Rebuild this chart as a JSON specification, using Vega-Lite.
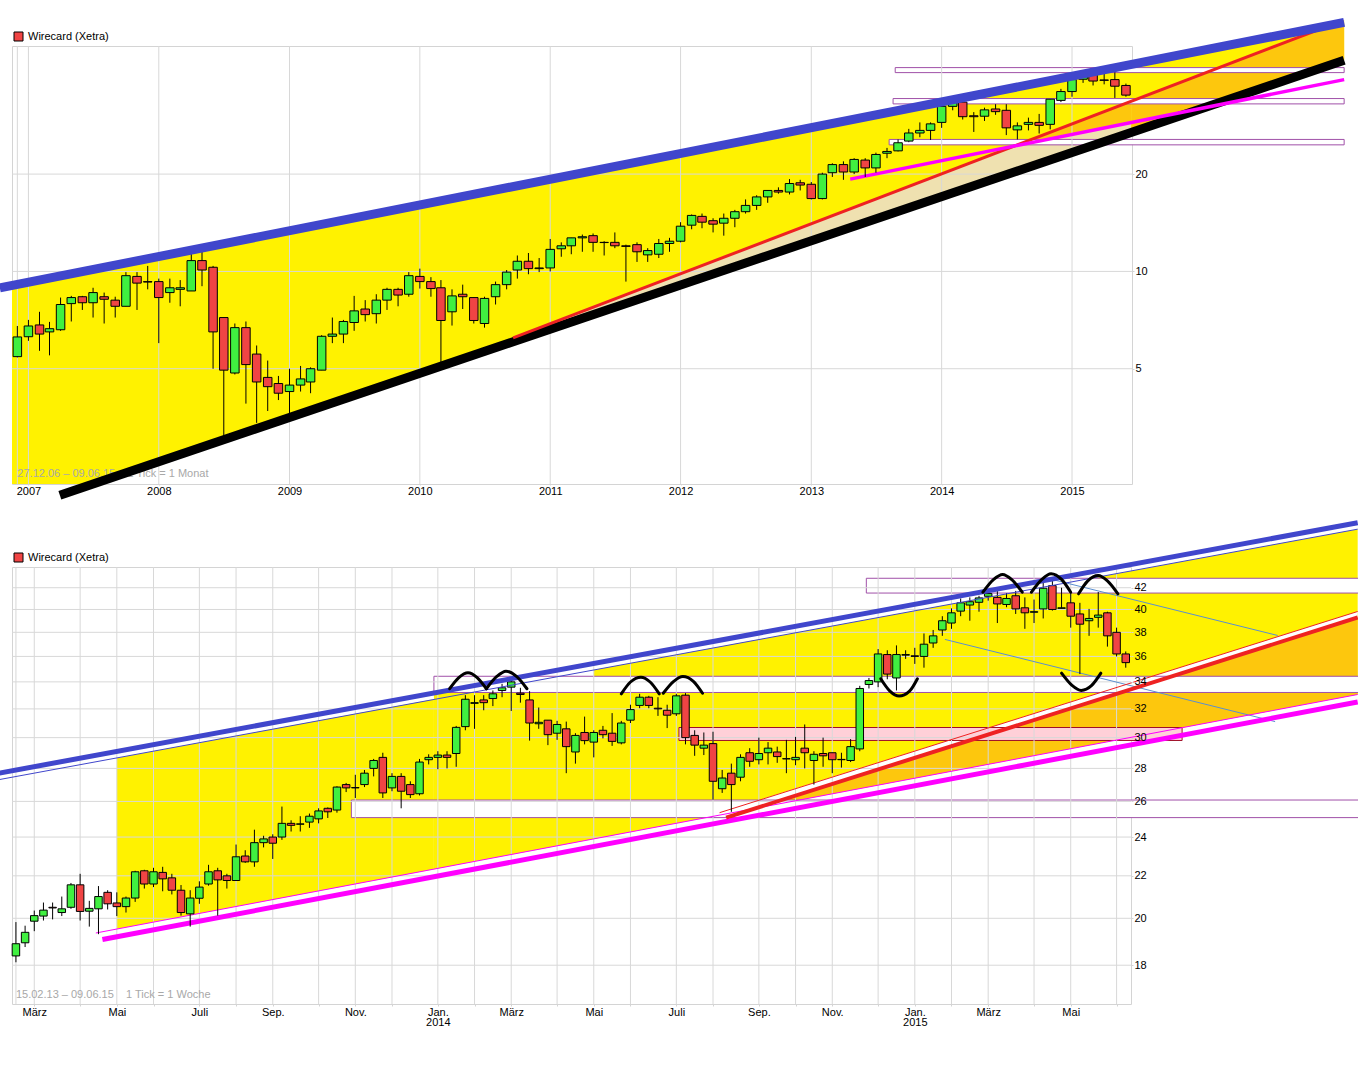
{
"$schema":"https://vega.github.io/schema/vega-lite/v6.json",
"autosize":{"type":"none"},
"padding":{"left":12,"top":46,"right":1346,"bottom":1026},
"background":"white",
"config":{
 "view":{"stroke":"#d4d4d4","strokeWidth":1},
 "axis":{"grid":false,"domain":false,"labelFont":"Liberation Sans","labelFontSize":11,"labelColor":"#000000","tickColor":"#d4d4d4","tickSize":2,"labelPadding":1,"labelOverlap":false,"labelFlush":false},
 "legend":{"orient":"none","legendX":1,"legendY":-15,"symbolType":"square","symbolSize":81,"symbolStrokeColor":"#000000","symbolStrokeWidth":1,"symbolOpacity":1,"labelFont":"Liberation Sans","labelFontSize":11,"labelColor":"#000000","padding":0,"labelOffset":4},
 "text":{"font":"Liberation Sans"}
},
"spacing":83,
"bounds":"flush",
"resolve":{"scale":{"color":"independent"},"legend":{"color":"independent"}},
"datasets":{
"m":[
{"d":"2006-12-01","o":5.45,"h":6.78,"l":5.42,"c":6.27},
{"d":"2007-01-01","o":6.28,"h":7.08,"l":6.1,"c":6.78},
{"d":"2007-02-01","o":6.83,"h":7.5,"l":5.68,"c":6.4},
{"d":"2007-03-01","o":6.5,"h":6.98,"l":5.5,"c":6.65},
{"d":"2007-04-01","o":6.6,"h":8.3,"l":6.55,"c":7.9},
{"d":"2007-05-01","o":7.95,"h":8.4,"l":7.0,"c":8.3},
{"d":"2007-06-01","o":8.35,"h":8.4,"l":7.6,"c":8.0},
{"d":"2007-07-01","o":8.0,"h":8.9,"l":7.2,"c":8.6},
{"d":"2007-08-01","o":8.35,"h":8.6,"l":6.9,"c":8.2},
{"d":"2007-09-01","o":8.15,"h":8.35,"l":7.2,"c":7.8},
{"d":"2007-10-01","o":7.8,"h":9.95,"l":7.8,"c":9.7},
{"d":"2007-11-01","o":9.65,"h":9.95,"l":7.6,"c":9.2},
{"d":"2007-12-01","o":9.3,"h":10.4,"l":8.8,"c":9.27},
{"d":"2008-01-01","o":9.3,"h":9.5,"l":6.0,"c":8.3},
{"d":"2008-02-01","o":8.6,"h":9.5,"l":8.0,"c":8.9},
{"d":"2008-03-01","o":8.8,"h":9.4,"l":7.8,"c":8.9},
{"d":"2008-04-01","o":8.7,"h":11.4,"l":8.7,"c":10.8},
{"d":"2008-05-01","o":10.8,"h":11.7,"l":9.0,"c":10.1},
{"d":"2008-06-01","o":10.3,"h":10.4,"l":5.0,"c":6.5},
{"d":"2008-07-01","o":7.2,"h":7.2,"l":3.05,"c":4.95},
{"d":"2008-08-01","o":4.85,"h":6.9,"l":4.8,"c":6.7},
{"d":"2008-09-01","o":6.7,"h":7.0,"l":3.9,"c":5.15},
{"d":"2008-10-01","o":5.55,"h":5.9,"l":3.4,"c":4.55},
{"d":"2008-11-01","o":4.7,"h":5.3,"l":3.7,"c":4.4},
{"d":"2008-12-01","o":4.5,"h":4.75,"l":4.0,"c":4.2},
{"d":"2009-01-01","o":4.25,"h":5.0,"l":3.6,"c":4.45},
{"d":"2009-02-01","o":4.45,"h":5.1,"l":4.25,"c":4.65},
{"d":"2009-03-01","o":4.55,"h":5.05,"l":4.2,"c":5.0},
{"d":"2009-04-01","o":4.95,"h":6.35,"l":4.95,"c":6.3},
{"d":"2009-05-01","o":6.3,"h":7.2,"l":6.0,"c":6.4},
{"d":"2009-06-01","o":6.4,"h":7.08,"l":6.0,"c":7.0},
{"d":"2009-07-01","o":6.95,"h":8.4,"l":6.55,"c":7.55},
{"d":"2009-08-01","o":7.65,"h":8.15,"l":7.0,"c":7.35},
{"d":"2009-09-01","o":7.4,"h":8.5,"l":6.9,"c":8.15},
{"d":"2009-10-01","o":8.15,"h":8.9,"l":7.6,"c":8.8},
{"d":"2009-11-01","o":8.8,"h":8.9,"l":7.8,"c":8.45},
{"d":"2009-12-01","o":8.5,"h":9.95,"l":8.35,"c":9.7},
{"d":"2010-01-01","o":9.65,"h":10.2,"l":8.85,"c":9.3},
{"d":"2010-02-01","o":9.3,"h":9.6,"l":8.35,"c":8.85},
{"d":"2010-03-01","o":8.9,"h":9.4,"l":5.2,"c":7.05},
{"d":"2010-04-01","o":7.5,"h":8.8,"l":6.8,"c":8.4},
{"d":"2010-05-01","o":8.5,"h":9.1,"l":7.65,"c":8.35},
{"d":"2010-06-01","o":8.3,"h":8.3,"l":6.9,"c":7.05},
{"d":"2010-07-01","o":6.9,"h":8.35,"l":6.7,"c":8.25},
{"d":"2010-08-01","o":8.35,"h":9.3,"l":7.9,"c":9.1},
{"d":"2010-09-01","o":9.1,"h":10.1,"l":8.8,"c":9.95},
{"d":"2010-10-01","o":10.1,"h":11.2,"l":9.5,"c":10.75},
{"d":"2010-11-01","o":10.75,"h":11.4,"l":9.8,"c":10.2},
{"d":"2010-12-01","o":10.2,"h":11.0,"l":9.95,"c":10.25},
{"d":"2011-01-01","o":10.25,"h":12.6,"l":10.0,"c":11.7},
{"d":"2011-02-01","o":11.75,"h":12.3,"l":11.1,"c":12.0},
{"d":"2011-03-01","o":12.0,"h":12.7,"l":11.3,"c":12.7},
{"d":"2011-04-01","o":12.7,"h":13.0,"l":11.5,"c":12.8},
{"d":"2011-05-01","o":12.9,"h":13.1,"l":11.5,"c":12.3},
{"d":"2011-06-01","o":12.3,"h":12.4,"l":11.2,"c":12.28},
{"d":"2011-07-01","o":12.3,"h":13.2,"l":11.8,"c":12.0},
{"d":"2011-08-01","o":12.0,"h":12.1,"l":9.3,"c":11.95},
{"d":"2011-09-01","o":12.1,"h":12.3,"l":10.7,"c":11.5},
{"d":"2011-10-01","o":11.25,"h":11.8,"l":10.7,"c":11.6},
{"d":"2011-11-01","o":11.3,"h":12.6,"l":11.0,"c":12.2},
{"d":"2011-12-01","o":12.2,"h":12.7,"l":11.5,"c":12.4},
{"d":"2012-01-01","o":12.4,"h":14.2,"l":12.3,"c":13.8},
{"d":"2012-02-01","o":13.9,"h":15.0,"l":13.5,"c":14.9},
{"d":"2012-03-01","o":14.8,"h":15.1,"l":13.6,"c":14.2},
{"d":"2012-04-01","o":14.35,"h":14.6,"l":13.2,"c":14.0},
{"d":"2012-05-01","o":14.1,"h":15.1,"l":12.9,"c":14.6},
{"d":"2012-06-01","o":14.6,"h":15.5,"l":13.7,"c":15.3},
{"d":"2012-07-01","o":15.3,"h":16.7,"l":15.1,"c":16.0},
{"d":"2012-08-01","o":16.0,"h":17.2,"l":15.5,"c":17.0},
{"d":"2012-09-01","o":17.0,"h":17.8,"l":16.3,"c":17.8},
{"d":"2012-10-01","o":17.8,"h":18.2,"l":17.4,"c":17.6},
{"d":"2012-11-01","o":17.6,"h":19.3,"l":17.3,"c":18.7},
{"d":"2012-12-01","o":18.8,"h":19.2,"l":17.8,"c":18.5},
{"d":"2013-01-01","o":18.6,"h":18.9,"l":16.7,"c":16.8},
{"d":"2013-02-01","o":16.8,"h":20.2,"l":16.7,"c":20.0},
{"d":"2013-03-01","o":20.2,"h":21.6,"l":19.6,"c":21.4},
{"d":"2013-04-01","o":21.4,"h":21.9,"l":19.2,"c":20.3},
{"d":"2013-05-01","o":20.3,"h":22.4,"l":20.0,"c":22.2},
{"d":"2013-06-01","o":22.1,"h":22.4,"l":19.6,"c":20.9},
{"d":"2013-07-01","o":20.9,"h":23.3,"l":20.2,"c":23.0},
{"d":"2013-08-01","o":23.2,"h":24.1,"l":22.4,"c":23.5},
{"d":"2013-09-01","o":23.6,"h":25.6,"l":23.5,"c":25.0},
{"d":"2013-10-01","o":25.3,"h":27.6,"l":25.1,"c":26.8},
{"d":"2013-11-01","o":26.8,"h":28.9,"l":26.0,"c":27.3},
{"d":"2013-12-01","o":27.3,"h":28.9,"l":25.5,"c":28.6},
{"d":"2014-01-01","o":28.9,"h":32.9,"l":27.8,"c":32.4},
{"d":"2014-02-01","o":32.4,"h":34.4,"l":31.5,"c":33.6},
{"d":"2014-03-01","o":33.4,"h":33.4,"l":29.5,"c":30.1},
{"d":"2014-04-01","o":30.3,"h":31.1,"l":27.0,"c":30.1},
{"d":"2014-05-01","o":30.2,"h":32.1,"l":29.2,"c":31.6},
{"d":"2014-06-01","o":31.8,"h":32.9,"l":30.5,"c":31.2},
{"d":"2014-07-01","o":31.5,"h":32.9,"l":26.4,"c":27.8},
{"d":"2014-08-01","o":27.4,"h":28.9,"l":25.6,"c":28.2},
{"d":"2014-09-01","o":28.5,"h":29.9,"l":27.3,"c":28.9},
{"d":"2014-10-01","o":28.9,"h":30.7,"l":26.7,"c":28.3},
{"d":"2014-11-01","o":28.5,"h":34.1,"l":27.5,"c":34.1},
{"d":"2014-12-01","o":33.8,"h":36.7,"l":33.4,"c":36.0},
{"d":"2015-01-01","o":36.0,"h":39.9,"l":34.7,"c":39.2},
{"d":"2015-02-01","o":39.3,"h":41.7,"l":38.3,"c":40.4},
{"d":"2015-03-01","o":41.0,"h":41.9,"l":37.6,"c":38.8},
{"d":"2015-04-01","o":39.1,"h":41.3,"l":37.9,"c":39.0},
{"d":"2015-05-01","o":39.2,"h":41.3,"l":34.4,"c":37.4},
{"d":"2015-06-01","o":37.6,"h":38.1,"l":34.7,"c":35.1}
],
"w":[
{"d":"2013-02-11","o":18.38,"h":19.83,"l":18.12,"c":18.89},
{"d":"2013-02-18","o":18.93,"h":19.67,"l":18.75,"c":19.38},
{"d":"2013-02-25","o":19.87,"h":20.35,"l":19.43,"c":20.12},
{"d":"2013-03-04","o":20.1,"h":20.72,"l":19.9,"c":20.37},
{"d":"2013-03-11","o":20.5,"h":20.72,"l":19.95,"c":20.47},
{"d":"2013-03-18","o":20.26,"h":21.0,"l":20.1,"c":20.43},
{"d":"2013-03-25","o":20.5,"h":21.65,"l":20.43,"c":21.56},
{"d":"2013-04-01","o":21.56,"h":22.1,"l":19.9,"c":20.31},
{"d":"2013-04-08","o":20.32,"h":20.8,"l":19.63,"c":20.45},
{"d":"2013-04-15","o":20.43,"h":21.5,"l":19.3,"c":21.0},
{"d":"2013-04-22","o":21.2,"h":21.3,"l":20.4,"c":20.66},
{"d":"2013-04-29","o":20.7,"h":21.2,"l":20.1,"c":20.53},
{"d":"2013-05-06","o":20.53,"h":21.0,"l":20.26,"c":20.93},
{"d":"2013-05-13","o":20.93,"h":22.25,"l":20.75,"c":22.2},
{"d":"2013-05-20","o":22.25,"h":22.3,"l":21.38,"c":21.6},
{"d":"2013-05-27","o":21.6,"h":22.4,"l":21.45,"c":22.2},
{"d":"2013-06-03","o":22.17,"h":22.45,"l":21.25,"c":21.85},
{"d":"2013-06-10","o":21.9,"h":22.1,"l":21.1,"c":21.3},
{"d":"2013-06-17","o":21.3,"h":21.55,"l":20.12,"c":20.26},
{"d":"2013-06-24","o":20.2,"h":21.3,"l":19.63,"c":20.93},
{"d":"2013-07-01","o":20.92,"h":21.73,"l":20.66,"c":21.45},
{"d":"2013-07-08","o":21.6,"h":22.55,"l":21.52,"c":22.2},
{"d":"2013-07-15","o":22.25,"h":22.4,"l":20.12,"c":21.8},
{"d":"2013-07-22","o":22.0,"h":22.1,"l":21.38,"c":21.77},
{"d":"2013-07-29","o":21.77,"h":23.6,"l":21.77,"c":22.96},
{"d":"2013-08-05","o":23.0,"h":23.3,"l":22.65,"c":22.7},
{"d":"2013-08-12","o":22.7,"h":24.4,"l":22.45,"c":23.7},
{"d":"2013-08-19","o":23.7,"h":24.07,"l":23.45,"c":23.9},
{"d":"2013-08-26","o":24.0,"h":24.15,"l":22.85,"c":23.67},
{"d":"2013-09-02","o":24.0,"h":25.7,"l":23.85,"c":24.75},
{"d":"2013-09-09","o":24.75,"h":24.92,"l":24.3,"c":24.64},
{"d":"2013-09-16","o":24.7,"h":25.15,"l":24.3,"c":24.72},
{"d":"2013-09-23","o":24.82,"h":25.3,"l":24.5,"c":25.15},
{"d":"2013-09-30","o":25.0,"h":25.6,"l":24.75,"c":25.45},
{"d":"2013-10-07","o":25.6,"h":25.65,"l":25.05,"c":25.4},
{"d":"2013-10-14","o":25.5,"h":26.9,"l":25.35,"c":26.85},
{"d":"2013-10-21","o":27.0,"h":27.1,"l":26.55,"c":26.8},
{"d":"2013-10-28","o":26.8,"h":27.6,"l":26.2,"c":26.82},
{"d":"2013-11-04","o":27.0,"h":27.9,"l":26.85,"c":27.7},
{"d":"2013-11-11","o":28.0,"h":28.6,"l":27.5,"c":28.5},
{"d":"2013-11-18","o":28.7,"h":29.0,"l":26.2,"c":26.5},
{"d":"2013-11-25","o":26.8,"h":27.7,"l":26.6,"c":27.5},
{"d":"2013-12-02","o":27.5,"h":27.7,"l":25.6,"c":26.6},
{"d":"2013-12-09","o":27.0,"h":27.2,"l":26.2,"c":26.4},
{"d":"2013-12-16","o":26.45,"h":28.6,"l":26.35,"c":28.4},
{"d":"2013-12-23","o":28.55,"h":28.9,"l":28.25,"c":28.7},
{"d":"2013-12-30","o":28.7,"h":29.1,"l":27.95,"c":28.85},
{"d":"2014-01-06","o":28.85,"h":29.1,"l":28.0,"c":28.7},
{"d":"2014-01-13","o":28.95,"h":30.8,"l":28.1,"c":30.7},
{"d":"2014-01-20","o":30.75,"h":33.0,"l":30.5,"c":32.7},
{"d":"2014-01-27","o":32.4,"h":33.0,"l":30.6,"c":32.45},
{"d":"2014-02-03","o":32.65,"h":33.0,"l":31.9,"c":32.45},
{"d":"2014-02-10","o":32.75,"h":33.35,"l":32.2,"c":33.1},
{"d":"2014-02-17","o":33.35,"h":33.85,"l":32.85,"c":33.55},
{"d":"2014-02-24","o":33.6,"h":34.3,"l":31.85,"c":34.0},
{"d":"2014-03-03","o":33.15,"h":33.55,"l":32.45,"c":33.05},
{"d":"2014-03-10","o":32.65,"h":33.3,"l":29.8,"c":31.0},
{"d":"2014-03-17","o":30.95,"h":32.1,"l":30.6,"c":31.05},
{"d":"2014-03-24","o":31.2,"h":31.2,"l":29.5,"c":30.2},
{"d":"2014-03-31","o":30.3,"h":31.15,"l":29.85,"c":30.9},
{"d":"2014-04-07","o":30.6,"h":31.1,"l":27.7,"c":29.4},
{"d":"2014-04-14","o":29.05,"h":30.3,"l":28.3,"c":30.15},
{"d":"2014-04-21","o":30.35,"h":31.45,"l":29.55,"c":29.8},
{"d":"2014-04-28","o":29.7,"h":30.5,"l":28.7,"c":30.35},
{"d":"2014-05-05","o":30.5,"h":30.8,"l":29.95,"c":30.2},
{"d":"2014-05-12","o":30.3,"h":31.7,"l":29.45,"c":29.75},
{"d":"2014-05-19","o":29.65,"h":31.15,"l":29.55,"c":31.0},
{"d":"2014-05-26","o":31.2,"h":32.3,"l":31.0,"c":31.95},
{"d":"2014-06-02","o":32.25,"h":33.1,"l":32.05,"c":32.85},
{"d":"2014-06-09","o":32.85,"h":32.95,"l":32.05,"c":32.25},
{"d":"2014-06-16","o":32.05,"h":32.85,"l":31.5,"c":32.0},
{"d":"2014-06-23","o":31.9,"h":32.3,"l":30.65,"c":31.55},
{"d":"2014-06-30","o":31.65,"h":33.1,"l":31.5,"c":32.95},
{"d":"2014-07-07","o":33.0,"h":33.15,"l":29.55,"c":30.0},
{"d":"2014-07-14","o":30.15,"h":30.5,"l":28.8,"c":29.5},
{"d":"2014-07-21","o":29.3,"h":30.35,"l":28.85,"c":29.5},
{"d":"2014-07-28","o":29.6,"h":30.4,"l":26.1,"c":27.2},
{"d":"2014-08-04","o":26.75,"h":27.9,"l":26.5,"c":27.4},
{"d":"2014-08-11","o":27.7,"h":28.3,"l":25.4,"c":27.0},
{"d":"2014-08-18","o":27.45,"h":28.9,"l":27.2,"c":28.7},
{"d":"2014-08-25","o":29.0,"h":29.3,"l":28.1,"c":28.45},
{"d":"2014-09-01","o":28.55,"h":30.0,"l":28.25,"c":28.95},
{"d":"2014-09-08","o":29.0,"h":29.7,"l":28.25,"c":29.3},
{"d":"2014-09-15","o":29.05,"h":29.4,"l":28.35,"c":28.75},
{"d":"2014-09-22","o":28.6,"h":29.85,"l":27.7,"c":28.62},
{"d":"2014-09-29","o":28.55,"h":30.05,"l":28.2,"c":28.7},
{"d":"2014-10-06","o":29.3,"h":30.9,"l":28.0,"c":29.0},
{"d":"2014-10-13","o":28.5,"h":29.1,"l":27.0,"c":28.9},
{"d":"2014-10-20","o":28.95,"h":30.0,"l":28.1,"c":28.8},
{"d":"2014-10-27","o":29.0,"h":29.0,"l":27.7,"c":28.55},
{"d":"2014-11-03","o":28.55,"h":29.0,"l":28.05,"c":28.57},
{"d":"2014-11-10","o":28.5,"h":29.9,"l":28.4,"c":29.4},
{"d":"2014-11-17","o":29.25,"h":33.7,"l":29.1,"c":33.5},
{"d":"2014-11-24","o":33.8,"h":34.3,"l":33.5,"c":34.1},
{"d":"2014-12-01","o":34.0,"h":36.6,"l":33.6,"c":36.2},
{"d":"2014-12-08","o":36.15,"h":36.5,"l":34.2,"c":34.6},
{"d":"2014-12-15","o":34.3,"h":36.9,"l":33.35,"c":36.15},
{"d":"2014-12-22","o":36.1,"h":36.5,"l":35.8,"c":36.15},
{"d":"2014-12-29","o":36.05,"h":36.7,"l":35.4,"c":36.0},
{"d":"2015-01-05","o":36.0,"h":37.9,"l":35.1,"c":37.0},
{"d":"2015-01-12","o":37.1,"h":38.2,"l":36.7,"c":37.7},
{"d":"2015-01-19","o":38.2,"h":39.4,"l":37.7,"c":39.0},
{"d":"2015-01-26","o":38.8,"h":40.1,"l":38.3,"c":39.7},
{"d":"2015-02-02","o":39.85,"h":41.0,"l":39.4,"c":40.6},
{"d":"2015-02-09","o":40.4,"h":41.1,"l":39.0,"c":40.7},
{"d":"2015-02-16","o":40.65,"h":41.25,"l":39.8,"c":41.05},
{"d":"2015-02-23","o":41.2,"h":41.8,"l":40.8,"c":41.45},
{"d":"2015-03-02","o":41.1,"h":41.7,"l":38.8,"c":40.5},
{"d":"2015-03-09","o":40.45,"h":41.5,"l":40.2,"c":41.0},
{"d":"2015-03-16","o":41.25,"h":41.7,"l":39.6,"c":40.05},
{"d":"2015-03-23","o":40.15,"h":41.1,"l":38.3,"c":39.7},
{"d":"2015-03-30","o":39.75,"h":40.9,"l":38.8,"c":39.8},
{"d":"2015-04-06","o":40.05,"h":42.5,"l":39.2,"c":41.95},
{"d":"2015-04-13","o":42.2,"h":42.8,"l":39.9,"c":40.0},
{"d":"2015-04-20","o":40.1,"h":42.0,"l":40.1,"c":40.15},
{"d":"2015-04-27","o":40.6,"h":41.6,"l":38.4,"c":39.4},
{"d":"2015-05-04","o":39.6,"h":40.6,"l":34.6,"c":38.7},
{"d":"2015-05-11","o":39.0,"h":40.05,"l":37.7,"c":39.2},
{"d":"2015-05-18","o":39.3,"h":41.6,"l":38.4,"c":39.5},
{"d":"2015-05-25","o":39.7,"h":39.8,"l":36.8,"c":37.7},
{"d":"2015-06-01","o":38.0,"h":38.4,"l":36.0,"c":36.2},
{"d":"2015-06-08","o":36.2,"h":36.4,"l":35.1,"c":35.5}
]
},
"vconcat":[
{
"width":1120,"height":438,
"layer":[
{"data":{"values":[{"d":"2006-11-16","p":9.05,"p2":2.2},{"d":"2007-07-07","p":10.17,"p2":2.2},{"d":"2017-02-01","p":58.9,"p2":44.98}]},
 "mark":{"type":"area","color":"#fff200"},
 "encoding":{
  "x":{"field":"d","type":"temporal","title":null,"scale":{"type":"time","nice":false,"padding":0,"domain":[{"year":2006,"month":11,"date":16},{"year":2015,"month":6,"date":18}]},
   "axis":{"values":[{"year":2007,"month":1,"date":1},{"year":2008,"month":1,"date":1},{"year":2009,"month":1,"date":1},{"year":2010,"month":1,"date":1},{"year":2011,"month":1,"date":1},{"year":2012,"month":1,"date":1},{"year":2013,"month":1,"date":1},{"year":2014,"month":1,"date":1},{"year":2015,"month":1,"date":1}],"format":"%Y","tickSize":1,"labelPadding":0,"zindex":1}},
  "y":{"field":"p","type":"quantitative","title":null,"scale":{"type":"log","nice":false,"domain":[2.2,49.8]},"axis":{"orient":"right","values":[5,10,20],"format":"d","zindex":1}},
  "y2":{"field":"p2"}}},
{"data":{"values":[{"d":"2010-09-19","p":6.23,"p2":6.05},{"d":"2015-06-16","p":33.56,"p2":26.9}]},
 "mark":{"type":"area","color":"#efe1b0"},
 "encoding":{
  "x":{"field":"d","type":"temporal","title":null,"scale":{"type":"time","nice":false,"padding":0,"domain":[{"year":2006,"month":11,"date":16},{"year":2015,"month":6,"date":18}]}},
  "y":{"field":"p","type":"quantitative","title":null,"scale":{"type":"log","nice":false,"domain":[2.2,49.8]}},
  "y2":{"field":"p2"}}},
{"data":{"values":[{"g":"a","d":"2014-07-26","p":24.46,"p2":24.46},{"g":"a","d":"2015-06-16","p":33.56,"p2":28.9},{"g":"b","d":"2015-06-16","p":33.56,"p2":26.9},{"g":"b","d":"2017-02-01","p":59.9,"p2":44.98}]},
 "mark":{"type":"area","color":"#fdc70d"},
 "encoding":{
  "x":{"field":"d","type":"temporal","title":null,"scale":{"type":"time","nice":false,"padding":0,"domain":[{"year":2006,"month":11,"date":16},{"year":2015,"month":6,"date":18}]}},
  "y":{"field":"p","type":"quantitative","title":null,"scale":{"type":"log","nice":false,"domain":[2.2,49.8]}},
  "y2":{"field":"p2"},
  "detail":{"field":"g"}}},
{"data":{"values":[{"d":"2013-08-24","d2":"2017-02-01","p":42.7,"p2":41.2},{"d":"2013-08-18","d2":"2017-02-01","p":34.25,"p2":32.97},{"d":"2013-08-07","d2":"2017-02-01","p":25.6,"p2":24.63}]},
 "mark":{"type":"rect","fill":"#ffffff","stroke":"#a050a8","strokeWidth":1},
 "encoding":{
  "x":{"field":"d","type":"temporal","title":null,"scale":{"type":"time","nice":false,"padding":0,"domain":[{"year":2006,"month":11,"date":16},{"year":2015,"month":6,"date":18}]}},
  "x2":{"field":"d2"},
  "y":{"field":"p","type":"quantitative","title":null,"scale":{"type":"log","nice":false,"domain":[2.2,49.8]}},
  "y2":{"field":"p2"}}},
{"data":{"values":[{"d":"2006-12-01"},{"d":"2007-01-01"},{"d":"2008-01-01"},{"d":"2009-01-01"},{"d":"2010-01-01"},{"d":"2011-01-01"},{"d":"2012-01-01"},{"d":"2013-01-01"},{"d":"2014-01-01"},{"d":"2015-01-01"}]},
 "mark":{"type":"rule","color":"#d8d8d8","strokeWidth":1},
 "encoding":{"x":{"field":"d","type":"temporal","title":null,"scale":{"type":"time","nice":false,"padding":0,"domain":[{"year":2006,"month":11,"date":16},{"year":2015,"month":6,"date":18}]}}}},
{"data":{"values":[{"p":5},{"p":10},{"p":20}]},
 "mark":{"type":"rule","color":"#d8d8d8","strokeWidth":1},
 "encoding":{"y":{"field":"p","type":"quantitative","title":null,"scale":{"type":"log","nice":false,"domain":[2.2,49.8]}}}},
{"data":{"values":[{"d":"2006-12-01","p":2.37,"t":"27.12.06 – 09.06.15\u00a0\u00a0\u00a0 1 Tick = 1 Monat"}]},
 "mark":{"type":"text","align":"left","baseline":"middle","color":"#a8a8a8","fontSize":11,"font":"Liberation Sans"},
 "encoding":{
  "x":{"field":"d","type":"temporal","title":null,"scale":{"type":"time","nice":false,"padding":0,"domain":[{"year":2006,"month":11,"date":16},{"year":2015,"month":6,"date":18}]}},
  "y":{"field":"p","type":"quantitative","title":null,"scale":{"type":"log","nice":false,"domain":[2.2,49.8]}},
  "text":{"field":"t"}}},
{"data":{"values":[{"d":"2007-03-30","p":2.03},{"d":"2017-02-01","p":44.98}]},
 "mark":{"type":"line","color":"#000000","strokeWidth":9},
 "encoding":{
  "x":{"field":"d","type":"temporal","title":null,"scale":{"type":"time","nice":false,"padding":0,"domain":[{"year":2006,"month":11,"date":16},{"year":2015,"month":6,"date":18}]}},
  "y":{"field":"p","type":"quantitative","title":null,"scale":{"type":"log","nice":false,"domain":[2.2,49.8]}}}},
{"data":{"values":[{"d":"2010-09-19","p":6.23},{"d":"2016-12-23","p":57.7}]},
 "mark":{"type":"line","color":"#ee2222","strokeWidth":3},
 "encoding":{
  "x":{"field":"d","type":"temporal","title":null,"scale":{"type":"time","nice":false,"padding":0,"domain":[{"year":2006,"month":11,"date":16},{"year":2015,"month":6,"date":18}]}},
  "y":{"field":"p","type":"quantitative","title":null,"scale":{"type":"log","nice":false,"domain":[2.2,49.8]}}}},
{"data":{"values":[{"d":"2013-04-20","p":19.3},{"d":"2017-02-01","p":39.2}]},
 "mark":{"type":"line","color":"#ff00ff","strokeWidth":3.5},
 "encoding":{
  "x":{"field":"d","type":"temporal","title":null,"scale":{"type":"time","nice":false,"padding":0,"domain":[{"year":2006,"month":11,"date":16},{"year":2015,"month":6,"date":18}]}},
  "y":{"field":"p","type":"quantitative","title":null,"scale":{"type":"log","nice":false,"domain":[2.2,49.8]}}}},
{"data":{"name":"m"},
 "mark":{"type":"rule","color":"#000000","strokeWidth":1},
 "encoding":{
  "x":{"field":"d","type":"temporal","title":null,"scale":{"type":"time","nice":false,"padding":0,"domain":[{"year":2006,"month":11,"date":16},{"year":2015,"month":6,"date":18}]}},
  "y":{"field":"l","type":"quantitative","title":null,"scale":{"type":"log","nice":false,"domain":[2.2,49.8]}},
  "y2":{"field":"h"}}},
{"data":{"name":"m"},
 "mark":{"type":"bar","width":8.5,"stroke":"#000000","strokeWidth":1},
 "encoding":{
  "x":{"field":"d","type":"temporal","title":null,"scale":{"type":"time","nice":false,"padding":0,"domain":[{"year":2006,"month":11,"date":16},{"year":2015,"month":6,"date":18}]}},
  "y":{"field":"o","type":"quantitative","title":null,"scale":{"type":"log","nice":false,"domain":[2.2,49.8]}},
  "y2":{"field":"c"},
  "fill":{"condition":{"test":"datum.c >= datum.o","value":"#40f040"},"value":"#f04444"}}},
{"data":{"values":[{"d":"2006-10-13","p":8.89},{"d":"2017-02-01","p":58.9}]},
 "mark":{"type":"line","color":"#4046cc","strokeWidth":9},
 "encoding":{
  "x":{"field":"d","type":"temporal","title":null,"scale":{"type":"time","nice":false,"padding":0,"domain":[{"year":2006,"month":11,"date":16},{"year":2015,"month":6,"date":18}]}},
  "y":{"field":"p","type":"quantitative","title":null,"scale":{"type":"log","nice":false,"domain":[2.2,49.8]}}}},
{"data":{"values":[{"name":"Wirecard (Xetra)"}]},
 "mark":{"type":"square","opacity":0},
 "encoding":{"color":{"field":"name","type":"nominal","scale":{"range":["#f04444"]},"legend":{"title":null}}}}
]
},
{
"width":1119,"height":437,
"layer":[
{"data":{"values":[{"g":"a","d":"2013-04-29","p":28.66,"p2":19.52},{"g":"a","d":"2013-12-27","p":32.7,"p2":22.33},{"g":"b","d":"2013-12-27","p":33.2,"p2":22.33},{"g":"b","d":"2014-04-28","p":33.2,"p2":23.9},{"g":"c","d":"2014-04-28","p":34.92,"p2":23.9},{"g":"c","d":"2015-12-02","p":47.9,"p2":33.05}]},
 "mark":{"type":"area","color":"#fff200"},
 "encoding":{
  "x":{"field":"d","type":"temporal","title":null,"scale":{"type":"time","nice":false,"padding":0,"domain":[{"year":2013,"month":2,"date":8},{"year":2015,"month":6,"date":12}]},
   "axis":{"values":[{"year":2013,"month":2,"date":25},{"year":2013,"month":4,"date":1},{"year":2013,"month":4,"date":29},{"year":2013,"month":5,"date":27},{"year":2013,"month":7,"date":1},{"year":2013,"month":7,"date":29},{"year":2013,"month":8,"date":26},{"year":2013,"month":9,"date":30},{"year":2013,"month":10,"date":28},{"year":2013,"month":11,"date":25},{"year":2013,"month":12,"date":30},{"year":2014,"month":1,"date":27},{"year":2014,"month":2,"date":24},{"year":2014,"month":3,"date":31},{"year":2014,"month":4,"date":28},{"year":2014,"month":5,"date":26},{"year":2014,"month":6,"date":30},{"year":2014,"month":7,"date":28},{"year":2014,"month":9,"date":1},{"year":2014,"month":9,"date":29},{"year":2014,"month":10,"date":27},{"year":2014,"month":12,"date":1},{"year":2014,"month":12,"date":29},{"year":2015,"month":1,"date":26},{"year":2015,"month":2,"date":23},{"year":2015,"month":3,"date":30},{"year":2015,"month":4,"date":27},{"year":2015,"month":6,"date":1}],
    "labelExpr":"month(time(datum.value) + 518400000) == 0 ? ['Jan.', '' + year(time(datum.value) + 518400000)] : ['', '', 'März', '', 'Mai', '', 'Juli', '', 'Sep.', '', 'Nov.', ''][month(time(datum.value) + 518400000)]",
    "tickSize":2,"labelPadding":0,"labelLineHeight":10,"zindex":1}},
  "y":{"field":"p","type":"quantitative","title":null,"scale":{"type":"log","nice":false,"domain":[16.5,44]},"axis":{"orient":"right","values":[18,20,22,24,26,28,30,32,34,36,38,40,42],"format":"d","zindex":1}},
  "y2":{"field":"p2"},
  "detail":{"field":"g"}}},
{"data":{"values":[{"d":"2014-08-29","p":25.59,"p2":25.59},{"d":"2015-12-02","p":39.29,"p2":33.05}]},
 "mark":{"type":"area","color":"#fdc70d"},
 "encoding":{
  "x":{"field":"d","type":"temporal","title":null,"scale":{"type":"time","nice":false,"padding":0,"domain":[{"year":2013,"month":2,"date":8},{"year":2015,"month":6,"date":12}]}},
  "y":{"field":"p","type":"quantitative","title":null,"scale":{"type":"log","nice":false,"domain":[16.5,44]}},
  "y2":{"field":"p2"}}},
{"data":{"values":[{"d":"2014-08-07","p":25.48,"p2":25.07},{"d":"2015-12-02","p":39.82,"p2":39.29}]},
 "mark":{"type":"area","color":"#ffffff"},
 "encoding":{
  "x":{"field":"d","type":"temporal","title":null,"scale":{"type":"time","nice":false,"padding":0,"domain":[{"year":2013,"month":2,"date":8},{"year":2015,"month":6,"date":12}]}},
  "y":{"field":"p","type":"quantitative","title":null,"scale":{"type":"log","nice":false,"domain":[16.5,44]}},
  "y2":{"field":"p2"}}},
{"data":{"values":[{"d":"2013-10-25","d2":"2015-12-03","p":26.08,"p2":25.07},{"d":"2013-12-27","d2":"2015-12-03","p":34.43,"p2":33.2},{"d":"2014-11-22","d2":"2015-12-03","p":42.9,"p2":41.5}]},
 "mark":{"type":"rect","fill":"#ffffff","stroke":"#a050a8","strokeWidth":1},
 "encoding":{
  "x":{"field":"d","type":"temporal","title":null,"scale":{"type":"time","nice":false,"padding":0,"domain":[{"year":2013,"month":2,"date":8},{"year":2015,"month":6,"date":12}]}},
  "x2":{"field":"d2"},
  "y":{"field":"p","type":"quantitative","title":null,"scale":{"type":"log","nice":false,"domain":[16.5,44]}},
  "y2":{"field":"p2"}}},
{"data":{"values":[{"d":"2014-07-02","d2":"2015-07-21","p":30.69,"p2":29.81}]},
 "mark":{"type":"rect","fill":"#ffd0d8","stroke":"#a01028","strokeWidth":1},
 "encoding":{
  "x":{"field":"d","type":"temporal","title":null,"scale":{"type":"time","nice":false,"padding":0,"domain":[{"year":2013,"month":2,"date":8},{"year":2015,"month":6,"date":12}]}},
  "x2":{"field":"d2"},
  "y":{"field":"p","type":"quantitative","title":null,"scale":{"type":"log","nice":false,"domain":[16.5,44]}},
  "y2":{"field":"p2"}}},
{"data":{"values":[{"d":"2013-02-11"},{"d":"2013-02-25"},{"d":"2013-04-01"},{"d":"2013-04-29"},{"d":"2013-05-27"},{"d":"2013-07-01"},{"d":"2013-07-29"},{"d":"2013-08-26"},{"d":"2013-09-30"},{"d":"2013-10-28"},{"d":"2013-11-25"},{"d":"2013-12-30"},{"d":"2014-01-27"},{"d":"2014-02-24"},{"d":"2014-03-31"},{"d":"2014-04-28"},{"d":"2014-05-26"},{"d":"2014-06-30"},{"d":"2014-07-28"},{"d":"2014-09-01"},{"d":"2014-09-29"},{"d":"2014-10-27"},{"d":"2014-12-01"},{"d":"2014-12-29"},{"d":"2015-01-26"},{"d":"2015-02-23"},{"d":"2015-03-30"},{"d":"2015-04-27"},{"d":"2015-06-01"}]},
 "mark":{"type":"rule","color":"#d8d8d8","strokeWidth":1},
 "encoding":{"x":{"field":"d","type":"temporal","title":null,"scale":{"type":"time","nice":false,"padding":0,"domain":[{"year":2013,"month":2,"date":8},{"year":2015,"month":6,"date":12}]}}}},
{"data":{"values":[{"p":18},{"p":20},{"p":22},{"p":24},{"p":26},{"p":28},{"p":30},{"p":32},{"p":34},{"p":36},{"p":38},{"p":40},{"p":42}]},
 "mark":{"type":"rule","color":"#d8d8d8","strokeWidth":1},
 "encoding":{"y":{"field":"p","type":"quantitative","title":null,"scale":{"type":"log","nice":false,"domain":[16.5,44]}}}},
{"data":{"values":[{"d":"2013-02-11","p":16.85,"t":"15.02.13 – 09.06.15\u00a0\u00a0\u00a0 1 Tick = 1 Woche"}]},
 "mark":{"type":"text","align":"left","baseline":"middle","color":"#a8a8a8","fontSize":11,"font":"Liberation Sans"},
 "encoding":{
  "x":{"field":"d","type":"temporal","title":null,"scale":{"type":"time","nice":false,"padding":0,"domain":[{"year":2013,"month":2,"date":8},{"year":2015,"month":6,"date":12}]}},
  "y":{"field":"p","type":"quantitative","title":null,"scale":{"type":"log","nice":false,"domain":[16.5,44]}},
  "text":{"field":"t"}}},
{"data":{"values":[{"g":"1","d":"2015-01-21","p":37.4},{"g":"1","d":"2015-09-30","p":31.1},{"g":"2","d":"2015-04-11","p":42.84},{"g":"2","d":"2015-10-02","p":37.73}]},
 "mark":{"type":"line","color":"#5b8fd0","strokeWidth":1},
 "encoding":{
  "x":{"field":"d","type":"temporal","title":null,"scale":{"type":"time","nice":false,"padding":0,"domain":[{"year":2013,"month":2,"date":8},{"year":2015,"month":6,"date":12}]}},
  "y":{"field":"p","type":"quantitative","title":null,"scale":{"type":"log","nice":false,"domain":[16.5,44]}},
  "detail":{"field":"g"}}},
{"data":{"values":[{"d":"2013-04-13","p":19.35},{"d":"2015-12-02","p":33.05}]},
 "mark":{"type":"line","color":"#ff00ff","strokeWidth":1},
 "encoding":{
  "x":{"field":"d","type":"temporal","title":null,"scale":{"type":"time","nice":false,"padding":0,"domain":[{"year":2013,"month":2,"date":8},{"year":2015,"month":6,"date":12}]}},
  "y":{"field":"p","type":"quantitative","title":null,"scale":{"type":"log","nice":false,"domain":[16.5,44]}}}},
{"data":{"values":[{"d":"2013-04-18","p":19.07},{"d":"2015-12-02","p":32.5}]},
 "mark":{"type":"line","color":"#ff00ff","strokeWidth":5},
 "encoding":{
  "x":{"field":"d","type":"temporal","title":null,"scale":{"type":"time","nice":false,"padding":0,"domain":[{"year":2013,"month":2,"date":8},{"year":2015,"month":6,"date":12}]}},
  "y":{"field":"p","type":"quantitative","title":null,"scale":{"type":"log","nice":false,"domain":[16.5,44]}}}},
{"data":{"values":[{"d":"2014-08-02","p":25.35},{"d":"2015-12-02","p":39.82}]},
 "mark":{"type":"line","color":"#ee2222","strokeWidth":1},
 "encoding":{
  "x":{"field":"d","type":"temporal","title":null,"scale":{"type":"time","nice":false,"padding":0,"domain":[{"year":2013,"month":2,"date":8},{"year":2015,"month":6,"date":12}]}},
  "y":{"field":"p","type":"quantitative","title":null,"scale":{"type":"log","nice":false,"domain":[16.5,44]}}}},
{"data":{"values":[{"d":"2014-08-07","p":25.07},{"d":"2015-12-02","p":39.29}]},
 "mark":{"type":"line","color":"#ee2222","strokeWidth":4},
 "encoding":{
  "x":{"field":"d","type":"temporal","title":null,"scale":{"type":"time","nice":false,"padding":0,"domain":[{"year":2013,"month":2,"date":8},{"year":2015,"month":6,"date":12}]}},
  "y":{"field":"p","type":"quantitative","title":null,"scale":{"type":"log","nice":false,"domain":[16.5,44]}}}},
{"data":{"name":"w"},
 "mark":{"type":"rule","color":"#000000","strokeWidth":1},
 "encoding":{
  "x":{"field":"d","type":"temporal","title":null,"scale":{"type":"time","nice":false,"padding":0,"domain":[{"year":2013,"month":2,"date":8},{"year":2015,"month":6,"date":12}]}},
  "y":{"field":"l","type":"quantitative","title":null,"scale":{"type":"log","nice":false,"domain":[16.5,44]}},
  "y2":{"field":"h"}}},
{"data":{"name":"w"},
 "mark":{"type":"bar","width":7.5,"stroke":"#000000","strokeWidth":1},
 "encoding":{
  "x":{"field":"d","type":"temporal","title":null,"scale":{"type":"time","nice":false,"padding":0,"domain":[{"year":2013,"month":2,"date":8},{"year":2015,"month":6,"date":12}]}},
  "y":{"field":"o","type":"quantitative","title":null,"scale":{"type":"log","nice":false,"domain":[16.5,44]}},
  "y2":{"field":"c"},
  "fill":{"condition":{"test":"datum.c >= datum.o","value":"#40f040"},"value":"#f04444"}}},
{"data":{"values":[{"d":"2013-01-29","p":27.3},{"d":"2015-12-02","p":47.9}]},
 "mark":{"type":"line","color":"#4046cc","strokeWidth":1},
 "encoding":{
  "x":{"field":"d","type":"temporal","title":null,"scale":{"type":"time","nice":false,"padding":0,"domain":[{"year":2013,"month":2,"date":8},{"year":2015,"month":6,"date":12}]}},
  "y":{"field":"p","type":"quantitative","title":null,"scale":{"type":"log","nice":false,"domain":[16.5,44]}}}},
{"data":{"values":[{"d":"2013-01-29","p":27.7},{"d":"2015-12-02","p":48.6}]},
 "mark":{"type":"line","color":"#4046cc","strokeWidth":5},
 "encoding":{
  "x":{"field":"d","type":"temporal","title":null,"scale":{"type":"time","nice":false,"padding":0,"domain":[{"year":2013,"month":2,"date":8},{"year":2015,"month":6,"date":12}]}},
  "y":{"field":"p","type":"quantitative","title":null,"scale":{"type":"log","nice":false,"domain":[16.5,44]}}}},
{"data":{"values":[
 {"g":"A1","d":"2014-01-08","p":33.48},{"g":"A1","d":"2014-01-15","p":34.33},{"g":"A1","d":"2014-01-22","p":34.7},{"g":"A1","d":"2014-01-29","p":34.33},{"g":"A1","d":"2014-02-05","p":33.48},
 {"g":"A2","d":"2014-02-05","p":33.48},{"g":"A2","d":"2014-02-13","p":34.42},{"g":"A2","d":"2014-02-20","p":34.83},{"g":"A2","d":"2014-02-28","p":34.42},{"g":"A2","d":"2014-03-08","p":33.48},
 {"g":"A3","d":"2014-05-19","p":33.1},{"g":"A3","d":"2014-05-26","p":33.99},{"g":"A3","d":"2014-06-03","p":34.36},{"g":"A3","d":"2014-06-10","p":33.99},{"g":"A3","d":"2014-06-17","p":33.1},
 {"g":"A4","d":"2014-06-20","p":33.14},{"g":"A4","d":"2014-06-28","p":34.04},{"g":"A4","d":"2014-07-05","p":34.41},{"g":"A4","d":"2014-07-13","p":34.04},{"g":"A4","d":"2014-07-20","p":33.14},
 {"g":"A5","d":"2014-12-03","p":34.24},{"g":"A5","d":"2014-12-10","p":33.3},{"g":"A5","d":"2014-12-17","p":32.93},{"g":"A5","d":"2014-12-25","p":33.3},{"g":"A5","d":"2014-12-31","p":34.24},
 {"g":"A6","d":"2015-02-19","p":41.58},{"g":"A6","d":"2015-02-27","p":42.77},{"g":"A6","d":"2015-03-06","p":43.27},{"g":"A6","d":"2015-03-13","p":42.77},{"g":"A6","d":"2015-03-21","p":41.58},
 {"g":"A7","d":"2015-03-28","p":41.58},{"g":"A7","d":"2015-04-05","p":42.8},{"g":"A7","d":"2015-04-12","p":43.34},{"g":"A7","d":"2015-04-20","p":42.8},{"g":"A7","d":"2015-04-27","p":41.58},
 {"g":"A8","d":"2015-05-03","p":41.43},{"g":"A8","d":"2015-05-10","p":42.65},{"g":"A8","d":"2015-05-18","p":43.17},{"g":"A8","d":"2015-05-25","p":42.65},{"g":"A8","d":"2015-06-02","p":41.43},
 {"g":"A9","d":"2015-04-20","p":34.67},{"g":"A9","d":"2015-04-28","p":33.73},{"g":"A9","d":"2015-05-05","p":33.35},{"g":"A9","d":"2015-05-13","p":33.73},{"g":"A9","d":"2015-05-20","p":34.67}
 ]},
 "mark":{"type":"line","color":"#000000","strokeWidth":3,"interpolate":"monotone","strokeCap":"round"},
 "encoding":{
  "x":{"field":"d","type":"temporal","title":null,"scale":{"type":"time","nice":false,"padding":0,"domain":[{"year":2013,"month":2,"date":8},{"year":2015,"month":6,"date":12}]}},
  "y":{"field":"p","type":"quantitative","title":null,"scale":{"type":"log","nice":false,"domain":[16.5,44]}},
  "detail":{"field":"g"}}},
{"data":{"values":[{"name":"Wirecard (Xetra)"}]},
 "mark":{"type":"square","opacity":0},
 "encoding":{"color":{"field":"name","type":"nominal","scale":{"range":["#f04444"]},"legend":{"title":null}}}}
]
}
]
}
